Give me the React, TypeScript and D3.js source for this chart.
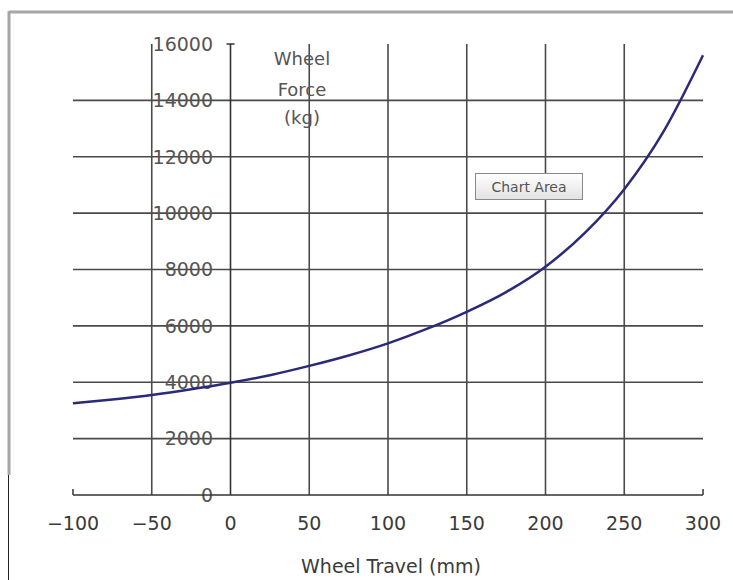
import * as React from "react";
import * as d3 from "d3";

// wheel travel (mm) vs wheel force (kg)
const travel = [-100, -75, -50, -25, 0, 25, 50, 75, 100, 125, 150, 175, 200, 225, 250, 275, 300];
const force = [3250, 3390, 3550, 3750, 3980, 4250, 4580, 4950, 5380, 5900, 6500, 7200, 8100, 9300, 10850, 12900, 15600];

const xTicks = [-100, -50, 0, 50, 100, 150, 200, 250, 300];
const yTicks = [0, 2000, 4000, 6000, 8000, 10000, 12000, 14000, 16000];
const vGrid = [-50, 50, 100, 150, 200, 250];
const hGrid = [2000, 4000, 6000, 8000, 10000, 12000, 14000];

const W = 733;
const H = 580;

export default function App() {
  const x = d3.scaleLinear().domain([-100, 300]).range([73, 703]);
  const y = d3.scaleLinear().domain([0, 16000]).range([495, 44]);

  const pts: [number, number][] = travel.map((t, i) => [t, force[i]]);
  const line = d3
    .line<[number, number]>()
    .x((d) => x(d[0]))
    .y((d) => y(d[1]))
    .curve(d3.curveMonotoneX);

  const fmtX = (v: number) => (v < 0 ? "\u2212" + Math.abs(v) : String(v));
  const font = "'DejaVu Sans', Verdana, sans-serif";

  return (
    <svg width={W} height={H} style={{ position: "absolute", left: 0, top: 0, background: "#fff" }}>
      {/* outer frame of the pasted chart */}
      <line x1={9} x2={W} y1={12} y2={12} stroke="#a6a6a6" strokeWidth={3} />
      <line x1={9} x2={9} y1={11} y2={475} stroke="#a6a6a6" strokeWidth={3} />
      <line x1={8.5} x2={8.5} y1={475} y2={H} stroke="#222" strokeWidth={1} />

      {/* grid */}
      {hGrid.map((v) => (
        <line key={"h" + v} x1={x(-100)} x2={x(300)} y1={y(v)} y2={y(v)} stroke="#4a4a4a" strokeWidth={1.6} />
      ))}
      {vGrid.map((v) => (
        <line key={"v" + v} x1={x(v)} x2={x(v)} y1={y(16000)} y2={y(0)} stroke="#4a4a4a" strokeWidth={1.6} />
      ))}

      {/* y axis at x = 0 */}
      <line x1={x(0)} x2={x(0)} y1={y(16000)} y2={y(0)} stroke="#333" strokeWidth={1.6} />
      <line x1={x(0) - 4} x2={x(0) + 4} y1={y(16000)} y2={y(16000)} stroke="#333" strokeWidth={1.5} />
      {yTicks.map((v) => (
        <text
          key={"yl" + v}
          x={213}
          y={y(v)}
          dy="0.36em"
          textAnchor="end"
          fontFamily={font}
          fontSize={19}
          fill="#555"
        >
          {v}
        </text>
      ))}
      <text textAnchor="middle" fontFamily={font} fontSize={18} fill="#555">
        <tspan x={302} y={65}>Wheel</tspan>
        <tspan x={302} y={96}>Force</tspan>
        <tspan x={302} y={124}>(kg)</tspan>
      </text>

      {/* x axis */}
      <line x1={x(-100)} x2={x(300)} y1={y(0)} y2={y(0)} stroke="#333" strokeWidth={1.5} />
      {[-100, 300].map((v) => (
        <line key={"xe" + v} x1={x(v)} x2={x(v)} y1={y(0) - 6} y2={y(0)} stroke="#333" strokeWidth={1.5} />
      ))}
      {xTicks.map((v) => (
        <text key={"xl" + v} x={x(v)} y={530} textAnchor="middle" fontFamily={font} fontSize={19} fill="#3a3a3a">
          {fmtX(v)}
        </text>
      ))}
      <text x={391} y={573} textAnchor="middle" fontFamily={font} fontSize={19} fill="#3a3a3a">
        Wheel Travel (mm)
      </text>

      {/* curve */}
      <path d={line(pts) || ""} fill="none" stroke="#2b2a78" strokeWidth={2.5} />

      {/* tooltip */}
      <defs>
        <linearGradient id="tip" x1="0" x2="0" y1="0" y2="1">
          <stop offset="0" stopColor="#ffffff" />
          <stop offset="1" stopColor="#e2e2e2" />
        </linearGradient>
      </defs>
      <rect x={475.5} y={173.5} width={107} height={26} fill="url(#tip)" stroke="#8a8a8a" strokeWidth={1} />
      <text x={529} y={187} dy="0.35em" textAnchor="middle" fontFamily={font} fontSize={14} fill="#555">
        Chart Area
      </text>
    </svg>
  );
}
